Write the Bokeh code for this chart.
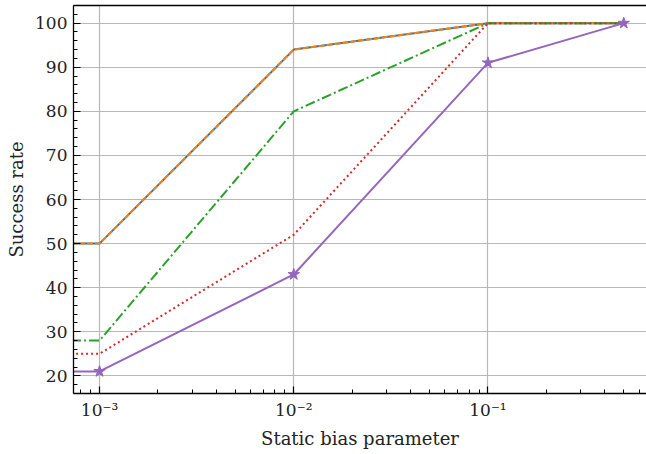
import numpy as np
from bokeh.plotting import figure
from bokeh.models import Range1d, FixedTicker, LogAxis, CustomJSTickFormatter
from bokeh.embed import file_html
from bokeh.resources import INLINE

# data (x=0 is the first entry; on a log axis it is drawn off the left edge)
bias = [0.0, 1e-3, 1e-2, 1e-1, 0.5]
series_a = [50, 50, 94, 100, 100]   # blue solid
series_b = [50, 50, 94, 100, 100]   # orange dashed
series_c = [28, 28, 80, 100, 100]   # green dash-dot
series_d = [25, 25, 52, 100, 100]   # red dotted
series_e = [21, 21, 43, 91, 100]    # purple with stars
x_ticks = [1e-3, 1e-2, 1e-1]
y_ticks = [20, 30, 40, 50, 60, 70, 80, 90, 100]

xs = [v if v > 0 else 1e-5 for v in bias]

FONT = "DejaVu Serif"

p = figure(width=646, height=454, x_axis_type="log", output_backend="svg",
           toolbar_location=None,
           x_range=Range1d(10 ** -3.134, 0.655), y_range=Range1d(16.0, 104.0),
           min_border_left=73, min_border_right=0, min_border_top=5,
           min_border_bottom=61)
p.outline_line_color = None
p.background_fill_color = "white"
p.border_fill_color = "white"

LW = 2.0
p.line(xs, series_a, line_color="#1f77b4", line_width=LW)
p.line(xs, series_b, line_color="#ff7f0e", line_width=LW, line_dash="6 2")
p.line(xs, series_c, line_color="#2ca02c", line_width=LW, line_dash="10 3 2 3")
p.line(xs, series_d, line_color="#d62728", line_width=LW, line_dash="2 3")
p.line(xs, series_e, line_color="#9467bd", line_width=LW)
p.scatter(xs, series_e, marker="star", size=12, fill_color="#9467bd",
          line_color="#9467bd")

p.xaxis.ticker = FixedTicker(ticks=x_ticks,
                             minor_ticks=[m * 10.0 ** e for e in range(-4, 1)
                                          for m in range(1, 10)])
p.xaxis.formatter = CustomJSTickFormatter(code="""
const e = Math.round(Math.log10(tick));
const sup = {'-':'\u207b','0':'\u2070','1':'\u00b9','2':'\u00b2','3':'\u00b3','4':'\u2074','5':'\u2075','6':'\u2076','7':'\u2077','8':'\u2078','9':'\u2079'};
return '10' + String(e).split('').map(c => sup[c]).join('');
""")
p.yaxis.ticker = FixedTicker(ticks=y_ticks,
                             minor_ticks=list(range(16, 105, 2)))

for ax in (p.xaxis[0], p.yaxis[0]):
    ax.axis_line_color = "black"
    ax.axis_line_width = 1.3
    ax.major_tick_in = 7
    ax.major_tick_out = 0
    ax.minor_tick_in = 4
    ax.minor_tick_out = 0
    ax.major_tick_line_color = "black"
    ax.minor_tick_line_color = "black"
    ax.major_tick_line_width = 1.2
    ax.minor_tick_line_width = 1.0
    ax.major_label_text_font = FONT
    ax.major_label_text_font_size = "17px"
    ax.major_label_text_color = "#222222"
    ax.axis_label_text_font = FONT
    ax.axis_label_text_font_size = "18px"
    ax.axis_label_text_font_style = "normal"
    ax.axis_label_text_color = "#222222"
    ax.major_label_standoff = 6
    ax.axis_label_standoff = 5

p.xaxis.axis_label = "Static bias parameter"
p.yaxis.axis_label = "Success rate"

top = LogAxis(ticker=FixedTicker(ticks=[]), major_tick_in=0, major_tick_out=0,
              minor_tick_in=0, minor_tick_out=0, major_label_text_font_size="0px",
              axis_line_color="black", axis_line_width=1.3)
p.add_layout(top, "above")

p.xgrid.ticker = FixedTicker(ticks=x_ticks)
p.ygrid.ticker = FixedTicker(ticks=y_ticks)
p.grid.grid_line_color = "#b8b8b8"
p.grid.grid_line_width = 1.2

open("out.html", "w").write(file_html(p, INLINE))
